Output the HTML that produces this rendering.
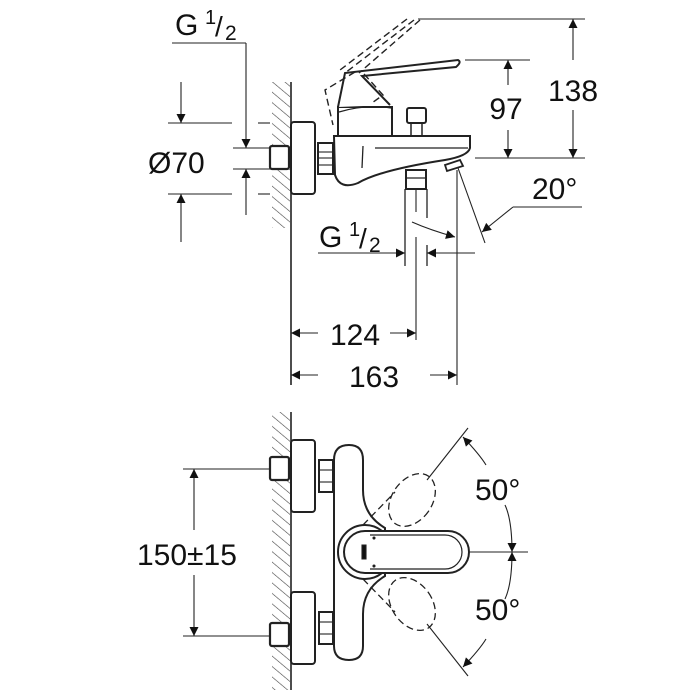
<!DOCTYPE html>
<html><head><meta charset="utf-8"><style>
html,body{margin:0;padding:0;background:#fff}
svg{display:block}
text{font-family:"Liberation Sans",Arial,sans-serif;fill:#111}
</style></head><body>
<svg width="700" height="700" viewBox="0 0 700 700" xmlns="http://www.w3.org/2000/svg">
<defs>
<pattern id="h" width="8" height="8" patternUnits="userSpaceOnUse" patternTransform="rotate(-50)">
<line x1="0" y1="0" x2="0" y2="8" stroke="#444" stroke-width="1.2"/>
</pattern>
<marker id="a" viewBox="0 0 10 10" refX="10" refY="5" markerWidth="18" markerHeight="9" markerUnits="userSpaceOnUse" orient="auto"><path d="M0,0 L10,5 L0,10 z" fill="#111"/></marker>
</defs>
<g fill="none" stroke="#222" stroke-width="1.1">
<!-- TOP VIEW -->
<rect x="272" y="82" width="18" height="146" fill="url(#h)" stroke="none"/>
<line x1="291" y1="82" x2="291" y2="385" stroke-width="1.6"/>
<rect x="291" y="122" width="24" height="72" rx="3" stroke-width="2" fill="#fff"/>
<rect x="270" y="146" width="19" height="23" rx="2" stroke-width="2.2" fill="#fff"/>
<rect x="318" y="143" width="15" height="31" stroke-width="2" fill="#fff"/>
<line x1="318" y1="152" x2="333" y2="152"/><line x1="318" y1="158" x2="333" y2="158"/><line x1="318" y1="165" x2="333" y2="165"/>
<!-- cartridge & lever -->
<path d="M338,136 L338,107 L392,107 L392,136" stroke-width="2" fill="#fff"/>
<path d="M339,112 Q365,104 391,108" stroke-width="1.2"/>
<path d="M338,107 L345,73 L458,60 Q462,62 456,67 L362,76 L390,105" stroke-width="2" fill="#fff"/>
<!-- dashed lever -->
<g stroke-dasharray="7,4" stroke-width="1.4">
<path d="M414,20 L345,73"/><path d="M407,19 L340,70"/>
<path d="M355,72 L325,90 L333,125"/><path d="M364,74 L383,95 L372,103"/>
<path d="M420,20 L359,73"/>
</g>
<!-- body -->
<path d="M334,136 L470,136 L470,148 Q468,156 445,160 Q380,170 358,183 Q340,190 335,175 Z" stroke-width="2" fill="#fff"/>
<line x1="375" y1="148" x2="468" y2="148" stroke-width="1.3"/>
<line x1="363" y1="146" x2="362" y2="168" stroke-width="1.3"/>
<!-- diverter -->
<rect x="407" y="108" width="19" height="15" rx="2" stroke-width="2" fill="#fff"/>
<line x1="411" y1="123" x2="411" y2="136" stroke-width="1.5"/><line x1="422" y1="123" x2="422" y2="136" stroke-width="1.5"/>
<!-- outlet -->
<rect x="406" y="170" width="20" height="19" stroke-width="2" fill="#fff"/>
<line x1="406" y1="178" x2="426" y2="178" stroke-width="1.2"/>
<path d="M445,165 L460,160 L463,166 L447,171 Z" stroke-width="1.8" fill="#fff"/>
<line x1="405" y1="189" x2="405" y2="266" stroke-width="1.3"/>
<line x1="427" y1="189" x2="427" y2="218" stroke-width="1.3"/>
<line x1="427" y1="245" x2="427" y2="266" stroke-width="1.3"/>
<line x1="416" y1="190" x2="416" y2="212"/>
<line x1="416" y1="237" x2="416" y2="340"/>
<line x1="457" y1="170" x2="457" y2="385"/>
<!-- 20deg -->
<line x1="458" y1="168" x2="485" y2="243"/>
<path d="M513,207 L582,207"/>
<path d="M513,207 L482,232" marker-end="url(#a)"/>
<path d="M412,222 Q430,230 455,237" marker-end="url(#a)"/>
<path d="M318,253 L405,253" marker-end="url(#a)"/>
<path d="M475,253 L427,253" marker-end="url(#a)"/>
<path d="M318,333 L291,333" marker-end="url(#a)"/>
<path d="M390,333 L416,333" marker-end="url(#a)"/>
<path d="M318,375 L291,375" marker-end="url(#a)"/>
<path d="M430,375 L457,375" marker-end="url(#a)"/>
<line x1="465" y1="60" x2="530" y2="60"/>
<line x1="475" y1="158" x2="585" y2="158"/>
<line x1="418" y1="19" x2="585" y2="19"/>
<path d="M508,85 L508,60" marker-end="url(#a)"/>
<path d="M508,130 L508,158" marker-end="url(#a)"/>
<path d="M573,60 L573,19" marker-end="url(#a)"/>
<path d="M573,110 L573,158" marker-end="url(#a)"/>
<!-- left dims -->
<line x1="168" y1="123" x2="232" y2="123"/><line x1="258" y1="123" x2="270" y2="123"/>
<line x1="168" y1="194" x2="232" y2="194"/><line x1="258" y1="194" x2="270" y2="194"/>
<line x1="233" y1="148" x2="270" y2="148"/><line x1="233" y1="169" x2="270" y2="169"/>
<path d="M181,82 L181,123" marker-end="url(#a)"/>
<path d="M181,242 L181,194" marker-end="url(#a)"/>
<line x1="172" y1="43" x2="246" y2="43"/>
<path d="M246,43 L246,148" marker-end="url(#a)"/>
<path d="M246,215 L246,169" marker-end="url(#a)"/>
<!-- BOTTOM VIEW -->
<rect x="272" y="412" width="18" height="278" fill="url(#h)" stroke="none"/>
<line x1="291" y1="412" x2="291" y2="690" stroke-width="1.6"/>
<rect x="291" y="440" width="24" height="72" rx="3" stroke-width="2" fill="#fff"/>
<rect x="291" y="592" width="24" height="72" rx="3" stroke-width="2" fill="#fff"/>
<rect x="270" y="457" width="19" height="23" rx="2" stroke-width="2.2" fill="#fff"/>
<rect x="270" y="623" width="19" height="23" rx="2" stroke-width="2.2" fill="#fff"/>
<rect x="319" y="460" width="14" height="32" stroke-width="2" fill="#fff"/>
<rect x="319" y="612" width="14" height="32" stroke-width="2" fill="#fff"/>
<line x1="319" y1="470" x2="333" y2="470"/><line x1="319" y1="482" x2="333" y2="482"/>
<line x1="319" y1="622" x2="333" y2="622"/><line x1="319" y1="634" x2="333" y2="634"/>
<path d="M334,460 Q334,445 349,445 Q363,445 363,460 L363,490 Q363,515 385,528 L385,576 Q363,589 363,614 L363,646 Q363,660 349,660 Q334,660 334,646 Z" stroke-width="2" fill="#fff"/>
<g stroke-dasharray="7,4" stroke-width="1.3">
<ellipse cx="412" cy="500" rx="20" ry="29" transform="rotate(35 412 500)"/>
<ellipse cx="412" cy="604" rx="20" ry="29" transform="rotate(-35 412 604)"/>
<line x1="363" y1="525" x2="395" y2="492"/><line x1="363" y1="579" x2="395" y2="612"/>
</g>
<circle cx="365" cy="552" r="27" stroke-width="2" fill="#fff"/>
<path d="M365,531 L448,531 A21,21 0 0 1 448,573 L365,573 A21,21 0 0 1 365,531 Z" stroke-width="2" fill="#fff"/>
<path d="M370,535 L445,535 A17,17 0 0 1 445,569 L370,569" stroke-width="1.2"/>
<path d="M362,545 L366,545 L366,559 L362,559 Z" fill="#111"/>
<circle cx="374" cy="538" r="1" fill="#111"/><circle cx="374" cy="566" r="1" fill="#111"/>
<line x1="470" y1="552" x2="528" y2="552"/>
<line x1="427" y1="480" x2="468" y2="428"/>
<line x1="427" y1="624" x2="468" y2="676"/>
<path d="M486,465 Q480,455 463,437" marker-end="url(#a)"/>
<path d="M486,639 Q480,649 463,667" marker-end="url(#a)"/>
<path d="M505,505 Q512,520 512,552" marker-end="url(#a)"/>
<path d="M505,599 Q512,584 512,552" marker-end="url(#a)"/>
<line x1="183" y1="469" x2="270" y2="469"/>
<line x1="183" y1="636" x2="270" y2="636"/>
<path d="M194,530 L194,469" marker-end="url(#a)"/>
<path d="M194,575 L194,636" marker-end="url(#a)"/>
</g>
<text x="175" y="35" font-size="30">G</text>
<text x="205" y="24" font-size="20">1</text>
<text x="215" y="36" font-size="28">/</text>
<text x="225" y="40" font-size="21">2</text>
<text x="148" y="173" font-size="30">Ø70</text>
<text x="319" y="247" font-size="30">G</text>
<text x="349" y="236" font-size="20">1</text>
<text x="359" y="248" font-size="28">/</text>
<text x="369" y="252" font-size="21">2</text>
<text x="355" y="345" font-size="30" text-anchor="middle">124</text>
<text x="374" y="387" font-size="30" text-anchor="middle">163</text>
<text x="506" y="119" font-size="30" text-anchor="middle">97</text>
<text x="573" y="101" font-size="30" text-anchor="middle">138</text>
<text x="532" y="199" font-size="30">20°</text>
<text x="137" y="565" font-size="30">150±15</text>
<text x="475" y="500" font-size="30">50°</text>
<text x="475" y="620" font-size="30">50°</text>
</svg>
</body></html>
